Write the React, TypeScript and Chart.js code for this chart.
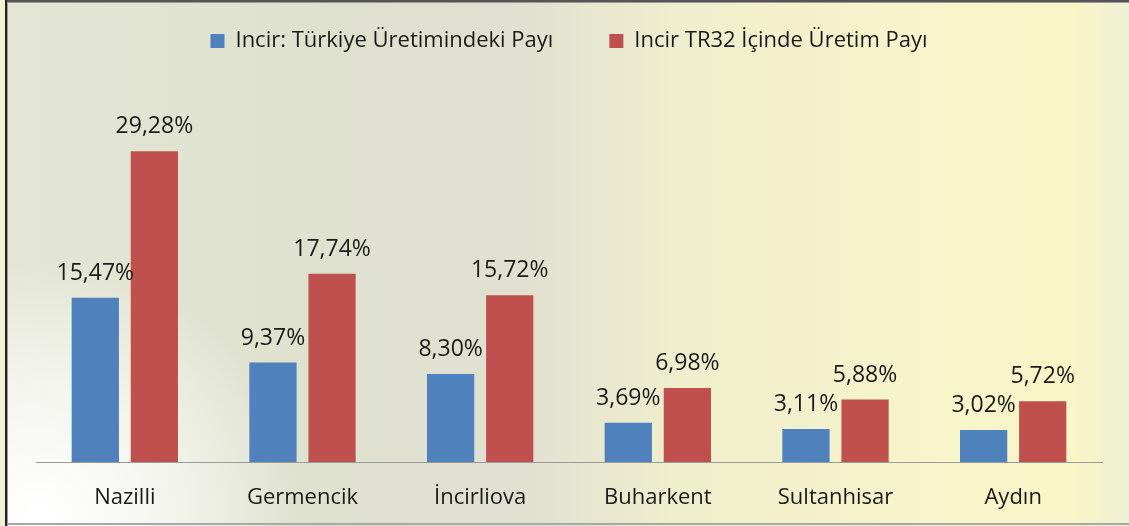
import React, { useEffect, useRef } from "react";
import { Chart, registerables } from "chart.js";

Chart.register(...registerables);

const categories = ["Nazilli", "Germencik", "İncirliova", "Buharkent", "Sultanhisar", "Aydın"];
const turkeyShare = [15.47, 9.37, 8.3, 3.69, 3.11, 3.02];
const tr32Share = [29.28, 17.74, 15.72, 6.98, 5.88, 5.72];
const seriesNames = ["Incir: Türkiye Üretimindeki Payı", "Incir TR32 İçinde Üretim Payı"];

const FONT = "'Open Sans', 'DejaVu Sans', sans-serif";

const fmt = (v: number) => v.toFixed(2).replace(".", ",") + "%";

const backgroundPlugin = {
  id: "bgPhoto",
  beforeDraw(chart: any) {
    const { ctx, width, height } = chart;
    ctx.save();
    ctx.fillStyle = "#f2f1d6";
    ctx.fillRect(0, 0, width, height);
    const g = ctx.createLinearGradient(0, 0, width, 0);
    g.addColorStop(0, "#e3e6d4");
    g.addColorStop(0.25, "#dfe2cf");
    g.addColorStop(0.45, "#e0dfd1");
    g.addColorStop(0.6, "#efeecd");
    g.addColorStop(0.8, "#f6f4cb");
    g.addColorStop(0.95, "#f8f6c6");
    g.addColorStop(1, "#eef0d6");
    ctx.fillStyle = g;
    ctx.fillRect(7, 0, width - 7, height);
    const r = ctx.createRadialGradient(40, 520, 10, 40, 520, 260);
    r.addColorStop(0, "rgba(255,255,255,1)");
    r.addColorStop(0.5, "rgba(255,255,255,0.6)");
    r.addColorStop(1, "rgba(255,255,255,0)");
    ctx.fillStyle = r;
    ctx.fillRect(7, 250, 400, 276);
    // frame
    ctx.fillStyle = "#555555";
    ctx.fillRect(5, 0, width - 5, 2);
    ctx.fillStyle = "#9a9a9a";
    ctx.fillRect(5, 2, width - 5, 1);
    ctx.fillStyle = "#222222";
    ctx.fillRect(5, 0, 2, height);
    ctx.fillStyle = "#9a9a9a";
    ctx.fillRect(7, 3, 1, height - 3);
    ctx.fillStyle = "#a8a8a8";
    ctx.fillRect(7, height - 3, width - 7, 2);
    ctx.restore();
  },
};

const valueLabelPlugin = {
  id: "valueLabels",
  afterDatasetsDraw(chart: any) {
    const { ctx } = chart;
    ctx.save();
    ctx.font = `23px ${FONT}`;
    ctx.fillStyle = "#1a1a1a";
    ctx.textAlign = "center";
    ctx.textBaseline = "bottom";
    chart.data.datasets.forEach((ds: any, i: number) => {
      const meta = chart.getDatasetMeta(i);
      meta.data.forEach((el: any, j: number) => {
        ctx.fillText(fmt(ds.data[j]), el.x, el.y - 13);
      });
    });
    ctx.restore();
  },
};

export default function App() {
  const ref = useRef<HTMLCanvasElement>(null);
  useEffect(() => {
    if (!ref.current) return;
    const chart = new Chart(ref.current, {
      type: "bar",
      data: {
        labels: categories,
        datasets: [
          { label: seriesNames[0], data: turkeyShare, backgroundColor: "#4f81bd" },
          { label: seriesNames[1], data: tr32Share, backgroundColor: "#c0504d" },
        ],
      },
      options: {
        responsive: false,
        animation: false,
        layout: { padding: { left: 36, right: 27, top: -26, bottom: 0 } },
        datasets: { bar: { categoryPercentage: 0.665, barPercentage: 0.8 } },
        plugins: {
          legend: {
            position: "top",
            labels: {
              font: { family: FONT, size: 22 },
              color: "#1a1a1a",
              boxWidth: 14,
              boxHeight: 14,
              padding: 56,
            },
          },
          tooltip: { enabled: false },
        },
        scales: {
          x: {
            grid: { display: false },
            border: { display: true, color: "#9a9a9a", width: 1 },
            ticks: { font: { family: FONT, size: 22 }, color: "#1a1a1a", padding: 15 },
            afterFit: (scale: any) => {
              scale.height = 64;
            },
          },
          y: { display: false, min: 0, max: 37.7 },
        },
      },
      plugins: [backgroundPlugin, valueLabelPlugin],
    });
    return () => chart.destroy();
  }, []);
  return (
    <div style={{ position: "fixed", left: 0, top: 0, width: 1129, height: 526 }}>
      <canvas ref={ref} width={1129} height={526} />
    </div>
  );
}
